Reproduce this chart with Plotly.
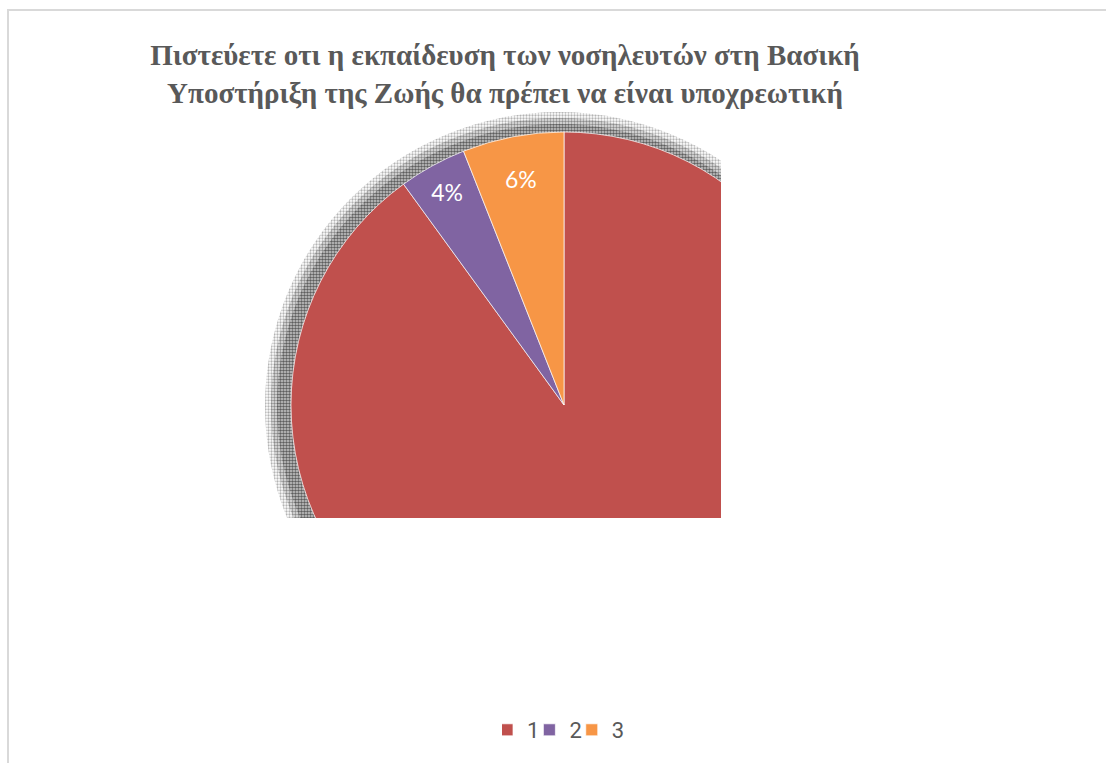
import plotly.graph_objects as go

# Survey answers and their shares (%)
categories = ["1", "2", "3"]
shares = [90, 4, 6]
colors = ["#C0504D", "#8064A2", "#F79646"]
title_lines = [
    "Πιστεύετε οτι η εκπαίδευση των νοσηλευτών στη Βασική",
    "Υποστήριξη της Ζωής θα πρέπει να είναι υποχρεωτική",
]

W, H = 1106, 763


def domain(cx, cy, r):
    """Pie domain (paper fractions) for a circle given in pixels from top-left."""
    return dict(x=[(cx - r) / W, (cx + r) / W], y=[(H - cy - r) / H, (H - cy + r) / H])


fig = go.Figure()

# soft halftone drop shadow: stacked dotted discs, darker towards the pie
shadow_layers = [
    (294, "#b4b4b4", "#ffffff", 0.45),
    (288, "#8a8a8a", "#e6e6e6", 0.5),
    (282, "#5e5e5e", "#cdcdcd", 0.55),
]
for r, fg, bg, sol in shadow_layers:
    fig.add_trace(go.Pie(
        values=[1], labels=["shadow"], showlegend=False, sort=False,
        domain=domain(559, 406, r),
        marker=dict(colors=[bg],
                    pattern=dict(shape=".", fgcolor=fg, bgcolor=bg, size=3, solidity=sol)),
        textinfo="none", hoverinfo="skip",
    ))

fig.add_trace(go.Pie(
    labels=categories, values=shares, sort=False, direction="clockwise", rotation=0,
    domain=domain(564, 405, 273),
    marker=dict(colors=colors, line=dict(color="rgba(255,255,255,0.7)", width=1)),
    texttemplate="%{percent:.0%}", textposition="inside",
    insidetextorientation="horizontal",
    insidetextfont=dict(family="Lato, Open Sans, sans-serif", size=23, color="white"),
    hoverinfo="label+percent",
))

shapes = [
    # the plot area clips the pie on the right and at the bottom
    dict(type="rect", xref="paper", yref="paper", x0=721 / W, x1=1.0, y0=0, y1=1 - 14 / H,
         fillcolor="white", line_width=0, layer="above"),
    dict(type="rect", xref="paper", yref="paper", x0=9 / W, x1=1.0, y0=0, y1=(H - 518) / H,
         fillcolor="white", line_width=0, layer="above"),
    # chart frame
    dict(type="line", xref="paper", yref="paper", x0=7 / W, x1=1.0, y0=1 - 10 / H, y1=1 - 10 / H,
         line=dict(color="#d9d9d9", width=2), layer="above"),
    dict(type="line", xref="paper", yref="paper", x0=8 / W, x1=8 / W, y0=0, y1=1 - 9 / H,
         line=dict(color="#d9d9d9", width=2), layer="above"),
]

fig.update_layout(
    width=W, height=H,
    margin=dict(l=0, r=0, t=0, b=0),
    paper_bgcolor="white", plot_bgcolor="white",
    title=dict(
        text="<b>" + "<br>".join(title_lines) + "</b>",
        x=505 / W, xanchor="center", y=1 - 65 / H, yanchor="top",
        font=dict(family="Liberation Serif, Times New Roman, serif", size=29, color="#595959"),
    ),
    legend=dict(
        orientation="h", x=566 / W, xanchor="center", y=(H - 730) / H, yanchor="middle",
        font=dict(family="Roboto, sans-serif", size=22, color="#595959"),
        indentation=-15,
        bgcolor="rgba(0,0,0,0)",
    ),
    shapes=shapes,
)

fig.write_html("out.html")
